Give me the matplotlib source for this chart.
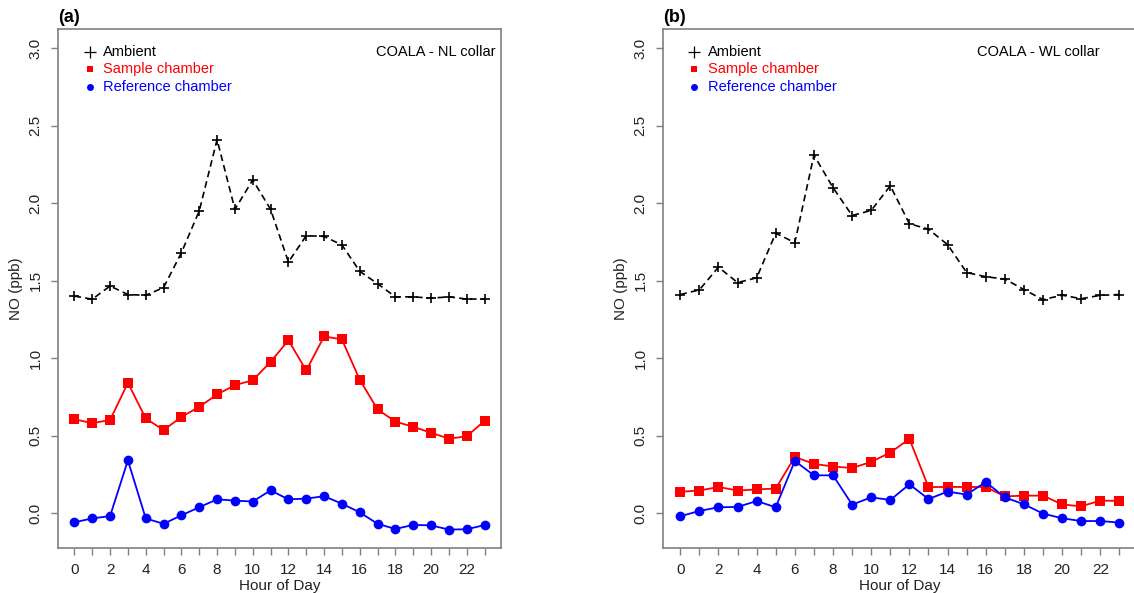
import matplotlib
matplotlib.use("Agg")
import matplotlib.pyplot as plt
from matplotlib.transforms import blended_transform_factory

plt.rcParams['font.family'] = ['Liberation Sans', 'DejaVu Sans']

hours = list(range(24))

# Panel (a): COALA - NL collar
nl_ambient = [1.40, 1.38, 1.465, 1.41, 1.405, 1.455, 1.68, 1.95, 2.41, 1.96,
              2.15, 1.96, 1.62, 1.79, 1.785, 1.73, 1.56, 1.48, 1.395, 1.395,
              1.387, 1.395, 1.381, 1.381]
nl_sample = [0.605, 0.58, 0.60, 0.84, 0.61, 0.535, 0.62, 0.685, 0.765, 0.825,
             0.857, 0.975, 1.115, 0.92, 1.14, 1.12, 0.86, 0.668, 0.59, 0.556,
             0.518, 0.48, 0.495, 0.595]
nl_reference = [-0.06, -0.035, -0.02, 0.34, -0.035, -0.07, -0.015, 0.037, 0.088, 0.08,
                0.074, 0.146, 0.088, 0.093, 0.108, 0.06, 0.004, -0.07, -0.103, -0.077,
                -0.08, -0.107, -0.105, -0.078]

# Panel (b): COALA - WL collar
wl_ambient = [1.41, 1.44, 1.587, 1.487, 1.518, 1.806, 1.745, 2.31, 2.10, 1.92,
              1.953, 2.112, 1.867, 1.832, 1.732, 1.552, 1.525, 1.51, 1.442, 1.377,
              1.406, 1.383, 1.405, 1.41]
wl_sample = [0.137, 0.145, 0.168, 0.145, 0.152, 0.158, 0.362, 0.317, 0.30, 0.29,
             0.33, 0.39, 0.478, 0.167, 0.168, 0.168, 0.168, 0.107, 0.112, 0.112,
             0.055, 0.043, 0.08, 0.078]
wl_reference = [-0.021, 0.013, 0.037, 0.039, 0.077, 0.037, 0.336, 0.243, 0.243, 0.054,
                0.101, 0.084, 0.185, 0.09, 0.138, 0.119, 0.20, 0.101, 0.056, -0.004,
                -0.034, -0.052, -0.052, -0.062]

panel_tags = ["(a)", "(b)"]
site_names = ["COALA - NL collar", "COALA - WL collar"]
series_names = ["Ambient", "Sample chamber", "Reference chamber"]
y_ticks = [0.0, 0.5, 1.0, 1.5, 2.0, 2.5, 3.0]

RED = "#FF0000"
BLUE = "#0000FF"
FRAME = "#808080"

W, H = 1134, 593
fig = plt.figure(figsize=(W / 100, H / 100), dpi=100)

# axes boxes in pixels: left, width
box_px = [(58.0, 443.0), (662.7, 474.3)]
bottom_px, top_px = 548.0, 29.0

panels = [
    (nl_ambient, nl_sample, nl_reference),
    (wl_ambient, wl_sample, wl_reference),
]

for i, (amb, samp, ref) in enumerate(panels):
    left, width = box_px[i]
    ax = fig.add_axes([left / W, (H - bottom_px) / H, width / W,
                       (bottom_px - top_px) / H])
    ax.set_xlim(-0.92, 23.92)
    ax.set_ylim(-0.226, 3.124)

    ax.plot(hours, amb, color="black", lw=1.2, linestyle=(0, (4, 2.5)),
            marker="+", markersize=7, markeredgewidth=1.2, zorder=3)
    ax.plot(hours, samp, color=RED, lw=1.3, marker="s", markersize=7,
            markeredgewidth=0, zorder=3)
    ax.plot(hours, ref, color=BLUE, lw=1.3, marker="o", markersize=7,
            markeredgewidth=0, zorder=3)

    # legend rows: x in axes fraction (fixed pixel offset from left spine), y in data
    tr = blended_transform_factory(ax.transAxes, ax.transData)
    mk_x = 31.5 / width
    tx_x = 45.0 / width
    rows = [(2.978, "+", "black", series_names[0], 8, 0.9),
            (2.864, "s", RED, series_names[1], 5, 0),
            (2.748, "o", BLUE, series_names[2], 5, 0)]
    for yv, mk, col, lab, ms, mew in rows:
        ax.plot([mk_x], [yv], marker=mk, color=col, markersize=ms,
                markeredgewidth=mew, linestyle="none", transform=tr)
        ax.text(tx_x, yv, lab, color=col, fontsize=10.5, va="center",
                ha="left", transform=tr)

    ax.text(437.0 / width, 2.978, site_names[i], color="black", fontsize=10.5,
            va="center", ha="right", transform=tr)

    ax.set_xticks(hours)
    ax.set_xticklabels([str(h) if h % 2 == 0 else "" for h in hours])
    ax.set_yticks(y_ticks)
    ax.set_yticklabels([f"{v:.1f}" for v in y_ticks], rotation=90, va="center")
    ax.tick_params(axis="both", length=5, width=1, color=FRAME,
                   labelsize=11, labelcolor="#222222", pad=6)
    for sp in ax.spines.values():
        sp.set_color(FRAME)
        sp.set_linewidth(1.2)

    ax.set_xlabel("Hour of Day", fontsize=11, color="#222222", labelpad=1)
    ax.set_ylabel("NO (ppb)", fontsize=11, color="#222222", labelpad=4)

    ax.text(0.0, 1.005, panel_tags[i], transform=ax.transAxes, fontsize=13,
            fontweight="bold", ha="left", va="bottom")

fig.savefig("out.png", dpi=100)
